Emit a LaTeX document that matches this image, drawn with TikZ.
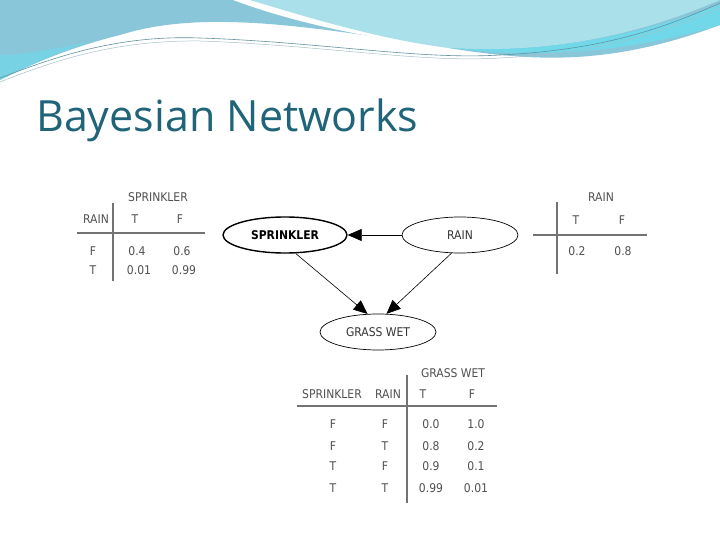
\documentclass[tikz,border=0pt]{standalone}
\usepackage{fontspec}
\setmainfont{DejaVu Sans Condensed}
\newfontfamily\titlefont{Open Sans}
\usetikzlibrary{arrows.meta,shapes.geometric}
\definecolor{tcol}{HTML}{1F6478}
\definecolor{gtxt}{HTML}{505050}
\definecolor{bandA}{HTML}{8AC6DA}
\definecolor{bandB}{HTML}{A9E0EA}
\definecolor{bandC}{HTML}{6ADCEB}
\begin{document}
\begin{tikzpicture}[x=1pt,y=-1pt,
  tx/.style={text=gtxt,font=\fontsize{12}{14}\selectfont,inner sep=0pt,anchor=base},
  rule/.style={draw=gtxt!80,line width=1.2pt},
  var/.style={draw,ellipse,line width=0.7pt,minimum width=116pt,minimum height=36pt,font=\fontsize{12}{14}\selectfont,text=black!80},
  edge/.style={draw,line width=0.6pt,-{Triangle[length=14pt,width=12pt]}}]
\useasboundingbox (0,0) rectangle (720,540);
\fill[white] (0,0) rectangle (720,540);
% banner
\fill[bandA] (0,0) -- (720,0) -- (720,25) .. controls (600,70) and (520,60) .. (430,45)
  .. controls (300,25) and (200,10) .. (120,35) .. controls (60,50) and (20,70) .. (0,80) -- cycle;
\fill[bandC!60!bandA] (0,80) .. controls (20,70) and (50,55) .. (90,42) .. controls (50,50) and (20,55) .. (0,55) -- cycle;
\fill[white] (233,0) .. controls (300,25) and (380,40) .. (450,48) .. controls (400,30) and (300,10) .. (250,0) -- cycle;
\fill[bandB] (250,0) .. controls (300,15) and (380,40) .. (450,48) .. controls (560,55) and (650,30) .. (720,0) -- cycle;
\fill[bandC!80!bandA] (450,48) .. controls (560,55) and (650,30) .. (720,5) -- (720,25) .. controls (620,55) and (530,58) .. (450,48) -- cycle;
\draw[tcol!70,line width=0.6pt] (0,78) .. controls (60,55) and (120,35) .. (200,38) .. controls (320,42) and (420,60) .. (500,55) .. controls (600,50) and (660,30) .. (720,3);
\draw[tcol!40,line width=0.5pt] (0,82) .. controls (60,58) and (120,40) .. (200,41) .. controls (320,45) and (420,63) .. (500,58) .. controls (600,53) and (660,33) .. (720,8);
% title
\node[anchor=base west,inner sep=0pt,text=tcol,font=\titlefont\fontsize{43}{50}\selectfont] (title) at (36,132) {Bayesian Networks};
% graph
\node[var,line width=1.4pt,font=\bfseries\fontsize{12}{14}\selectfont,minimum width=124pt,text=black] (spr) at (285,235) {SPRINKLER};
\node[var] (rain) at (460,235) {RAIN};
\node[var] (gw) at (378,332) {GRASS WET};
\draw[edge] (rain) -- (spr);
\draw[edge] (spr.-60) -- (gw.120);
\draw[edge] (rain.-115) -- (gw.65);
% left table
\node[tx] (l0) at (158,202) {SPRINKLER};
\node[tx] (l1) at (96,223) {RAIN};
\node[tx] (l2) at (135,223) {T};
\node[tx] (l3) at (180,223) {F};
\node[tx] (l4) at (93,255) {F};
\node[tx] (l5) at (93,274) {T};
\node[tx] (l6) at (137,255) {0.4};
\node[tx] (l7) at (182,255) {0.6};
\node[tx] (l8) at (139,274) {0.01};
\node[tx] (l9) at (184,274) {0.99};
\draw[rule] (77,233) -- (205,233);
\draw[rule] (113,203) -- (113,281);
% right table
\node[tx] (r0) at (601,202) {RAIN};
\node[tx] (r1) at (576,225) {T};
\node[tx] (r2) at (622,225) {F};
\node[tx] (r3) at (577,255) {0.2};
\node[tx] (r4) at (623,255) {0.8};
\draw[rule] (533,235) -- (647,235);
\draw[rule] (557,202) -- (557,274);
% bottom table
\node[tx] (b0) at (453,377) {GRASS WET};
\node[tx] (b1) at (332,398) {SPRINKLER};
\node[tx] (b2) at (388,398) {RAIN};
\node[tx] (b3) at (423,398) {T};
\node[tx] (b4) at (472,398) {F};
\foreach \y/\a/\b/\c/\d [count=\i] in {428/F/F/0.0/1.0, 450/F/T/0.8/0.2, 470/T/F/0.9/0.1, 492/T/T/0.99/0.01}{
  \node[tx] (s\i) at (333,\y) {\a};
  \node[tx] (t\i) at (385,\y) {\b};
  \node[tx] (u\i) at (431,\y) {\c};
  \node[tx] (v\i) at (476,\y) {\d};
}
\draw[rule] (297,406) -- (497,406);
\draw[rule] (407,375) -- (407,503);
\end{tikzpicture}
\end{document}
